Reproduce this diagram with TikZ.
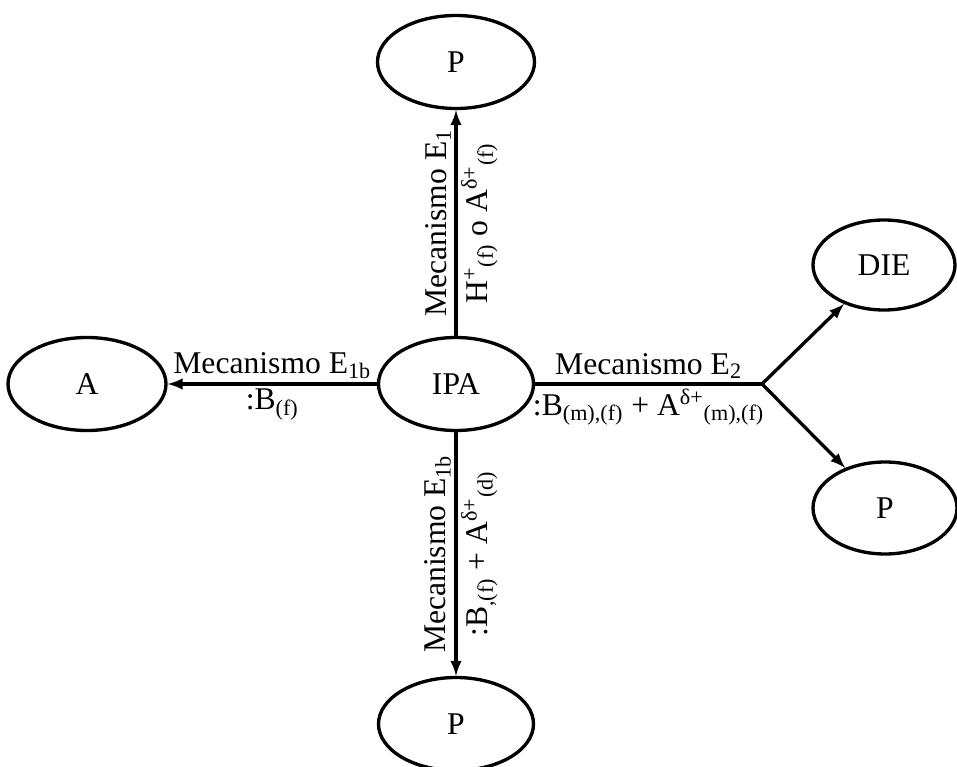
\documentclass[tikz,border=0pt]{standalone}
\usepackage{fontspec}
\setmainfont{Liberation Serif}
\usetikzlibrary{arrows,shapes.geometric}

\begin{document}
\begin{tikzpicture}[line width=1.9pt,font=\fontsize{18}{21}\selectfont,
  state/.style={draw,ellipse,minimum width=3.1cm,minimum height=1.86cm,inner sep=0pt},
  mech/.style={inner sep=2pt}]
\useasboundingbox (0,0) rectangle (19.14,15.32);
\node[state] (IPA) at (9.12,7.64) {IPA};
\node[state,minimum width=3.14cm] (Ptop) at (9.12,14.08) {P};
\node[state,minimum width=3.16cm] (A) at (1.74,7.64) {A};
\node[state] (Pbot) at (9.12,0.84) {P};
\node[state,minimum width=2.84cm,minimum height=1.8cm] (DIE) at (17.68,10.02) {DIE};
\node[state,minimum width=2.88cm,minimum height=1.84cm] (Pr) at (17.70,5.16) {P};
\coordinate (J) at (15.24,7.64);
% E1 hacia arriba
\draw[-latex] (IPA.north) -- (Ptop.south)
  node[mech,midway,rotate=90,anchor=south] (lblE1) {Mecanismo E\textsubscript{1}}
  node[mech,midway,rotate=90,anchor=north] (catE1) {H\textsuperscript{+}\textsubscript{(f)} o A\textsuperscript{δ+}\textsubscript{(f)}};
% E1b hacia A
\draw[-latex] (IPA.west) -- (A.east)
  node[mech,midway,above] (lblE1bA) {Mecanismo E\textsubscript{1b}}
  node[mech,midway,below] (catE1bA) {:B\textsubscript{(f)}};
% E1b hacia abajo
\draw[-latex] (IPA.south) -- (Pbot.north)
  node[mech,midway,rotate=90,anchor=south] (lblE1bP) {Mecanismo E\textsubscript{1b}}
  node[mech,midway,rotate=90,anchor=north] (catE1bP) {:B\textsubscript{,(f)} + A\textsuperscript{δ+}\textsubscript{(d)}};
% E2
\draw (IPA.east) -- (J)
  node[mech,midway,above] (lblE2) {Mecanismo E\textsubscript{2}}
  node[mech,midway,below] (catE2) {:B\textsubscript{(m),(f)} + A\textsuperscript{δ+}\textsubscript{(m),(f)}};
\draw[-latex] (J) -- (DIE);
\draw[-latex] (J) -- (Pr);
\end{tikzpicture}
\end{document}
